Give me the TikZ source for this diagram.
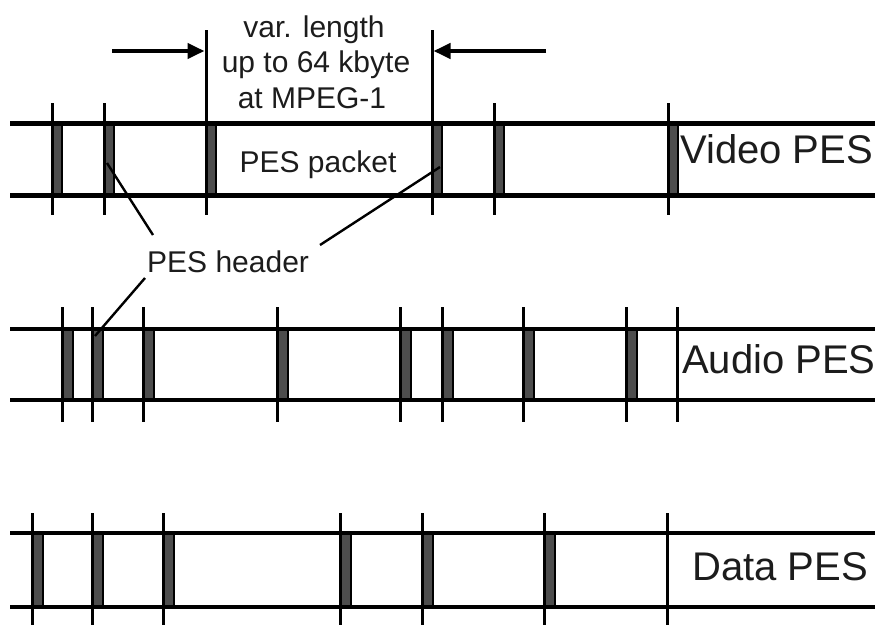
\documentclass[tikz,border=0pt]{standalone}
\usepackage{fontspec}
\setmainfont{Liberation Sans}
\usetikzlibrary{arrows.meta}
\definecolor{hdrgray}{HTML}{4D4D4D}
\definecolor{txt}{HTML}{1C1C1C}
\begin{document}
\begin{tikzpicture}[x=1pt,y=-1pt,
  hdrbar/.style={fill=hdrgray,draw=black,line width=1.4pt},
  tickline/.style={draw=black,line width=3pt},
  leader/.style={draw=black,line width=2.4pt},
  dimarrow/.style={draw=black,line width=4pt,-{Triangle[length=17pt,width=15pt]}},
  smalltxt/.style={font=\fontsize{30}{36}\selectfont,text=txt,inner sep=0pt},
  bigtxt/.style={font=\fontsize{40}{48}\selectfont,text=txt,inner sep=0pt}]
\useasboundingbox (0,0) rectangle (875,624);
\clip (0,0) rectangle (875,624);
% ---------- Video PES ----------
\foreach \x in {52,104,206,432,494,668}
  \path[hdrbar] (\x,123) rectangle (\x+10,195);
\draw[line width=5pt] (10,123) -- (875,123);
\draw[line width=5pt] (10,195) -- (875,195);
\foreach \x in {52,104,494,668}
  \draw[tickline] (\x,103) -- (\x,215);
\draw[tickline] (206,30) -- (206,215);
\draw[tickline] (432,30) -- (432,215);
% ---------- Audio PES ----------
\foreach \x in {62,92,143,277,400,442,523,626}
  \path[hdrbar] (\x,329) rectangle (\x+11,400);
\draw[line width=3.5pt] (10,329) -- (875,329);
\draw[line width=3.5pt] (10,400) -- (875,400);
\foreach \x in {62,92,143,277,400,442,523,626,677}
  \draw[tickline] (\x,307) -- (\x,422);
% ---------- Data PES ----------
\foreach \x in {32,92,163,340,422,544}
  \path[hdrbar] (\x,533) rectangle (\x+11,607);
\draw[line width=4pt] (10,533) -- (875,533);
\draw[line width=4pt] (10,607) -- (875,607);
\foreach \x in {32,92,163,340,422,544,667}
  \draw[tickline] (\x,513) -- (\x,630);
% ---------- length dimension ----------
\coordinate (la) at (112,51);
\coordinate (lb) at (204.5,51);
\coordinate (ra) at (546,51);
\coordinate (rb) at (433.5,51);
\draw[dimarrow] (la) -- (lb);
\draw[dimarrow] (ra) -- (rb);
\node[smalltxt,anchor=base] (len1) at (314,37) {var. length};
\node[smalltxt,anchor=base] (len2) at (316,72.5) {up to 64 kbyte};
\node[smalltxt,anchor=base] (len3) at (312,108) {at MPEG-1};
\node[smalltxt,anchor=base] (pkt) at (318,172) {PES packet};
% ---------- PES header ----------
\node[smalltxt,anchor=base west] (hdr) at (147,272) {PES header};
\coordinate (v1) at (107,163);
\coordinate (v1e) at (153,235);
\coordinate (v2) at (440,167);
\coordinate (v2e) at (320,245);
\coordinate (a1) at (145,278);
\coordinate (a1e) at (95,336);
\draw[leader] (v1) -- (v1e);
\draw[leader] (v2) -- (v2e);
\draw[leader] (a1) -- (a1e);
% ---------- labels ----------
\node[bigtxt,anchor=base west] (vid) at (680,163) {Video PES};
\node[bigtxt,anchor=base west] (aud) at (682,373) {Audio PES};
\node[bigtxt,anchor=base west] (dat) at (692,580) {Data PES};
\end{tikzpicture}
\end{document}
